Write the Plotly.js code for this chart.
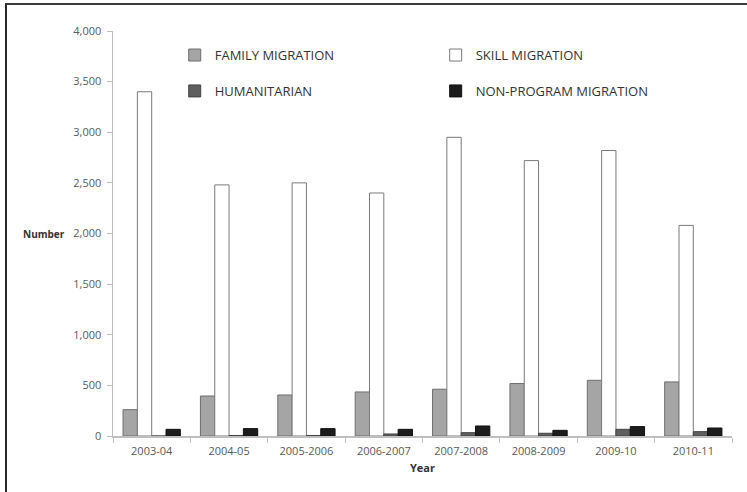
<!DOCTYPE html>
<html>
<head>
<meta charset="utf-8">
<script src="https://cdn.plot.ly/plotly-3.0.1.min.js"></script>
<style>
  html, body { margin: 0; padding: 0; background: #fff; }
  #wrap { position: relative; width: 747px; height: 492px; }
  #chart { position: absolute; left: 0; top: 0; width: 747px; height: 492px; }
  #frame { position: absolute; left: 5px; top: 3px; width: 742px; height: 489px;
           border-top: 2px solid #3a3a3a; border-left: 2px solid #2a2a2a; pointer-events: none; }
</style>
</head>
<body>
<div id="wrap"><div id="chart"></div><div id="frame"></div></div>
<script>
const years = ["2003-04", "2004-05", "2005-2006", "2006-2007", "2007-2008", "2008-2009", "2009-10", "2010-11"];
const familyMigration = [260, 395, 405, 435, 462, 518, 550, 534];
const skillMigration = [3400, 2480, 2500, 2400, 2950, 2720, 2820, 2080];
const humanitarian = [0, 5, 5, 20, 33, 27, 66, 43];
const nonProgramMigration = [66, 73, 73, 66, 99, 56, 93, 79];
const yTicks = [0, 500, 1000, 1500, 2000, 2500, 3000, 3500, 4000];

const FONT = "'Open Sans', Lato, 'Liberation Sans', sans-serif";

const traces = [
  { type: "bar", name: "FAMILY MIGRATION", x: years, y: familyMigration,
    marker: { color: "#a5a5a5", line: { color: "#6e6e6e", width: 1 } },
    legend: "legend", legendgroup: "a" },
  { type: "bar", name: "SKILL MIGRATION", x: years, y: skillMigration,
    marker: { color: "#ffffff", line: { color: "#7a7a7a", width: 1 } },
    legend: "legend2", legendgroup: "c" },
  { type: "bar", name: "HUMANITARIAN", x: years, y: humanitarian,
    marker: { color: "#5f5f5f", line: { color: "#444444", width: 1 } },
    legend: "legend", legendgroup: "b" },
  { type: "bar", name: "NON-PROGRAM MIGRATION", x: years, y: nonProgramMigration,
    marker: { color: "#1c1c1c", line: { color: "#111111", width: 1 } },
    legend: "legend2", legendgroup: "d" }
];

const legendCommon = {
  orientation: "v", yanchor: "top", xanchor: "left", y: 0.9776,
  bgcolor: "rgba(0,0,0,0)", tracegroupgap: 16, traceorder: "grouped",
  font: { family: FONT, size: 13, color: "#333333" }
};

const layout = {
  width: 747, height: 492,
  margin: { l: 113, r: 15, t: 31, b: 56 },
  paper_bgcolor: "#ffffff", plot_bgcolor: "#ffffff",
  font: { family: FONT, size: 11, color: "#595959" },
  barmode: "group", bargap: 0.26, bargroupgap: 0,
  showlegend: true,
  legend: Object.assign({}, legendCommon, { x: 0.0997 }),
  legend2: Object.assign({}, legendCommon, { x: 0.5213 }),
  xaxis: {
    type: "category", showgrid: false, zeroline: false,
    showline: true, linecolor: "#bfbfbf", linewidth: 1.5,
    ticks: "outside", tickson: "boundaries", ticklen: 5, tickcolor: "#bfbfbf",
    ticklabelstandoff: 4,
    tickfont: { family: FONT, size: 11, color: "#595959" },
    title: { text: "Year", font: { family: FONT, size: 11, color: "#333333", weight: "bold" }, standoff: 7 }
  },
  yaxis: {
    range: [0, 4000], tickvals: yTicks, tickformat: ",d",
    showgrid: false, zeroline: false,
    showline: true, linecolor: "#bfbfbf", linewidth: 1.5,
    ticks: "outside", ticklen: 5, tickcolor: "#bfbfbf",
    ticklabelstandoff: 3,
    tickfont: { family: FONT, size: 11, color: "#595959" }
  },
  annotations: [
    { text: "Number", xref: "paper", yref: "paper", x: -0.074, y: 0.5, xanchor: "right", yanchor: "middle",
      showarrow: false, font: { family: FONT, size: 10, color: "#333333", weight: "bold" } }
  ]
};

Plotly.newPlot("chart", traces, layout, { displayModeBar: false, staticPlot: true });
</script>
</body>
</html>
